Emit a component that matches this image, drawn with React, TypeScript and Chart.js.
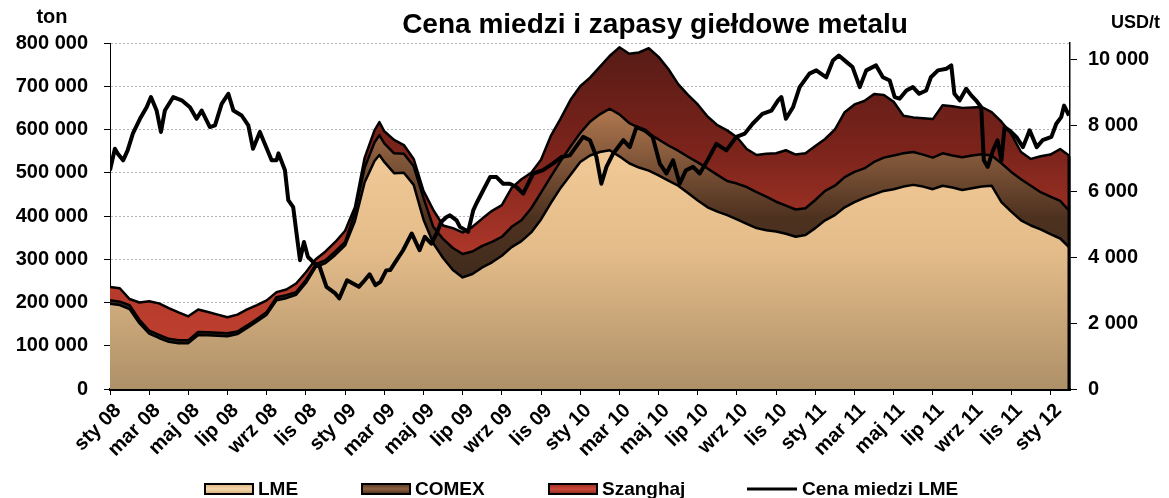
import React, { useEffect, useRef } from "react";
import { Chart, registerables } from "chart.js";

Chart.register(...registerables);

const TITLE = "Cena miedzi i zapasy giełdowe metalu";
const LEFT_UNIT = "ton";
const RIGHT_UNIT = "USD/t";
const seriesNames = ["LME", "COMEX", "Szanghaj", "Cena miedzi LME"];

const tickLabels = [
  "sty 08", "mar 08", "maj 08", "lip 08", "wrz 08", "lis 08",
  "sty 09", "mar 09", "maj 09", "lip 09", "wrz 09", "lis 09",
  "sty 10", "mar 10", "maj 10", "lip 10", "wrz 10", "lis 10",
  "sty 11", "mar 11", "maj 11", "lip 11", "wrz 11", "lis 11",
  "sty 12",
];
const leftTicks = [0, 100000, 200000, 300000, 400000, 500000, 600000, 700000, 800000];
const rightTicks = [0, 2000, 4000, 6000, 8000, 10000];

// months elapsed since 1 Jan 2008 (stock sampling points)
const stockMonths = [
  0, 0.5, 1, 1.5, 2, 2.5, 3, 3.5, 4, 4.5, 5, 5.5, 6, 6.5, 7, 7.5, 8, 8.5, 9, 9.5,
  10, 10.5, 11, 11.5, 12, 12.5, 13, 13.5, 13.75, 14, 14.5, 15, 15.5, 16, 16.5, 17, 17.5, 18, 18.5, 19, 19.5,
  20, 20.5, 21, 21.5, 22, 22.5, 23, 23.5, 24, 24.5, 25, 25.5, 26, 26.5, 27, 27.5, 28, 28.5, 29, 29.5,
  30, 30.5, 31, 31.5, 32, 32.5, 33, 33.5, 34, 34.5, 35, 35.5, 36, 36.5, 37, 37.5, 38, 38.5, 39, 39.5,
  40, 40.5, 41, 41.5, 42, 42.5, 43, 43.5, 44, 44.5, 45, 45.5, 46, 46.5, 47, 47.5, 48, 48.5, 49,
];

// stocks, thousand tonnes
const lmeStock = [
  197, 194, 185, 152, 128, 118, 109, 106, 106, 125, 124, 123, 122, 127, 141, 156, 172, 205, 210, 218,
  245, 282, 291, 310, 332, 388, 478, 527, 541, 525, 499, 500, 472, 392, 337, 303, 275, 258, 266, 281, 293,
  308, 328, 342, 362, 392, 430, 465, 495, 525, 540, 548, 552, 538, 522, 512, 505, 494, 482, 470, 453,
  436, 420, 410, 402, 392, 382, 372, 367, 364, 359, 352, 356, 372, 390, 402, 420, 432, 442, 450, 458,
  462, 468, 472, 468, 462, 470, 466, 460, 464, 468, 470, 432, 410, 390, 378, 369, 358, 348, 326,
];
const comexStock = [
  8, 8, 9, 8, 7, 7, 7, 7, 7, 7, 7, 7, 7, 6, 6, 6, 6, 7, 7, 6,
  7, 6, 7, 8, 8, 20, 34, 43, 46, 43, 46, 44, 43, 50, 38, 44, 51, 54, 52, 50, 47,
  44, 47, 48, 56, 62, 61, 62, 65, 67, 78, 87, 96, 97, 93, 92, 85, 83, 81, 81, 84,
  88, 90, 85, 79, 83, 85, 83, 78, 69, 65, 63, 62, 65, 68, 68, 70, 70, 68, 75, 77,
  78, 77, 76, 74, 73, 75, 74, 76, 76, 75, 70, 90, 92, 95, 92, 86, 87, 87, 84,
];
const shanghaiStock = [
  31, 31, 14, 40, 68, 73, 71, 64, 55, 52, 47, 42, 37, 39, 37, 32, 27, 12, 13, 20,
  18, 12, 20, 22, 26, 12, 23, 28, 30, 28, 31, 20, 17, 16, 39, 31, 46, 50, 57, 63, 72,
  73, 90, 95, 82, 76, 94, 98, 108, 108, 102, 110, 122, 155, 160, 174, 198, 191, 177, 154, 143,
  134, 120, 115, 117, 107, 88, 86, 99, 112, 128, 127, 127, 125, 120, 130, 150, 156, 156, 157, 145,
  124, 87, 80, 84, 89, 111, 114, 114, 111, 109, 100, 96, 88, 63, 62, 83, 97, 120, 128,
];

// LME copper price, USD/t, at months elapsed since 1 Jan 2008
const priceMonths = [
  0, 0.25, 0.4, 0.67, 0.9, 1.17, 1.53, 1.87, 2.09, 2.38, 2.6, 2.8, 3.23, 3.66, 4.08, 4.42, 4.68, 5.1, 5.36, 5.7,
  6.04, 6.3, 6.72, 7.06, 7.3, 7.65, 7.9, 8.25, 8.5, 8.6, 8.93, 9.1, 9.35, 9.5, 9.7, 9.9, 10.1, 10.45, 10.7, 11.05,
  11.5, 11.7, 12.1, 12.4, 12.7, 13.0, 13.25, 13.55, 13.8, 14.1, 14.3, 14.63, 14.96, 15.4, 15.8, 16.07, 16.4, 16.67, 16.9, 17.18,
  17.35, 17.69, 17.86, 18.28, 18.54, 18.7, 19.05, 19.4, 19.73, 20.07, 20.4, 20.75, 21.09, 21.6, 22.1, 22.6, 23.04, 23.47, 24.15, 24.5,
  24.83, 25.08, 25.34, 25.68, 26.2, 26.53, 26.87, 27.3, 27.7, 28.06, 28.4, 28.74, 29.08, 29.4, 29.76, 30.1, 30.5, 30.95, 31.46, 31.97,
  32.4, 32.8, 33.3, 33.76, 34.1, 34.27, 34.5, 34.86, 35.2, 35.7, 36.05, 36.56, 36.9, 37.2, 37.6, 37.9, 38.27, 38.6, 39.1, 39.45,
  39.8, 40.05, 40.3, 40.65, 40.98, 41.3, 41.66, 41.9, 42.26, 42.7, 42.94, 43.1, 43.37, 43.7, 43.96, 44.2, 44.47, 44.6, 44.8, 45.07,
  45.3, 45.5, 45.66, 45.9, 46.26, 46.6, 46.94, 47.3, 47.6, 48.05, 48.3, 48.55, 48.7, 48.95,
];
const priceUsd = [
  6640, 7290, 7140, 6940, 7240, 7760, 8200, 8550, 8860, 8450, 7800, 8450, 8860, 8760, 8550, 8200, 8450, 7950, 8000, 8650,
  8960, 8450, 8300, 8000, 7290, 7800, 7440, 6940, 6940, 7150, 6640, 5730, 5520, 4820, 3910, 4460, 4010, 3810, 3710, 3100,
  2900, 2750, 3300, 3200, 3100, 3300, 3480, 3150, 3250, 3600, 3610, 3910, 4210, 4720, 4210, 4620, 4410, 4720, 5070, 5220,
  5270, 5120, 4920, 4770, 5420, 5630, 6030, 6430, 6430, 6230, 6230, 6130, 5930, 6540, 6640, 6840, 7040, 7090, 7650, 7550,
  7040, 6230, 6740, 7140, 7550, 7340, 7950, 7850, 7650, 6840, 6540, 6940, 6230, 6640, 6740, 6540, 6940, 7440, 7240, 7650,
  7750, 8050, 8350, 8450, 8760, 8860, 8200, 8550, 9160, 9570, 9670, 9460, 9970, 10120, 9920, 9770, 9160, 9670, 9820, 9460,
  9360, 8860, 8810, 9060, 9160, 8960, 9060, 9460, 9670, 9720, 9820, 8960, 8760, 9110, 8910, 8760, 8550, 6940, 6740, 7240,
  7550, 6940, 7950, 7850, 7650, 7340, 7850, 7340, 7550, 7650, 8050, 8250, 8600, 8300,
];

const FONT = '"Liberation Sans", Arial, Helvetica, sans-serif';

const fmtSpace = (v: number) => String(Math.round(v)).replace(/\B(?=(\d{3})+(?!\d))/g, " ");

function vGrad(chart: any, stops: [number, string][]) {
  const { ctx, chartArea } = chart;
  const g = ctx.createLinearGradient(0, chartArea.top, 0, chartArea.bottom);
  stops.forEach(([f, c]) => g.addColorStop(f, c));
  return g;
}

const LME_STOPS: [number, string][] = [[0, "#F4CC9A"], [0.3, "#F2CA98"], [0.6, "#E4BC8A"], [1, "#AE9068"]];
const COMEX_STOPS: [number, string][] = [[0, "#B47C54"], [0.19, "#B07850"], [0.5, "#4E3220"], [0.74, "#3C281A"], [1, "#3C281A"]];
const SH_STOPS: [number, string][] = [[0, "#561B16"], [0.3, "#7A231B"], [0.63, "#B0382A"], [0.83, "#BC3E2E"], [1, "#BC3E2E"]];

const scriptGrad = (stops: [number, string][], fallback: string) => (c: any) =>
  c.chart.chartArea ? vGrad(c.chart, stops) : fallback;

const edgePlugin = {
  id: "areaEdge",
  afterDatasetsDraw(chart: any) {
    // right-hand outline of the stacked areas (as drawn by the original)
    const meta = chart.getDatasetMeta(2);
    const pts = meta && meta.data;
    if (!pts || !pts.length) return;
    const last = pts[pts.length - 1];
    const c = chart.ctx as CanvasRenderingContext2D;
    c.save();
    c.strokeStyle = "#000";
    c.lineWidth = 3;
    c.beginPath();
    c.moveTo(last.x - 1, last.y);
    c.lineTo(last.x - 1, chart.chartArea.bottom);
    c.stroke();
    c.restore();
  },
};

const decorPlugin = {
  id: "decor",
  afterDraw(chart: any) {
    const c = chart.ctx as CanvasRenderingContext2D;
    c.save();
    c.fillStyle = "#000";
    c.textBaseline = "alphabetic";
    c.textAlign = "center";
    c.font = `bold 28px ${FONT}`;
    c.fillText(TITLE, 655, 33);
    c.font = `bold 20px ${FONT}`;
    c.fillText(LEFT_UNIT, 52, 23);
    c.textAlign = "left";
    c.font = `bold 18px ${FONT}`;
    c.fillText(RIGHT_UNIT, 1111, 28);

    // legend
    const boxY = 484;
    const boxH = 10;
    const boxW = 48;
    const boxXs = [205, 362, 549];
    const boxGrads: string[][] = [
      ["#D6B282", "#F6D6A8", "#D0AC7C"],
      ["#5A3A24", "#8C6040", "#4A2E1C"],
      ["#982C20", "#CC4A3A", "#8E281E"],
    ];
    c.font = `bold 19px ${FONT}`;
    boxXs.forEach((bx, i) => {
      const g = c.createLinearGradient(0, boxY, 0, boxY + boxH);
      g.addColorStop(0, boxGrads[i][0]);
      g.addColorStop(0.5, boxGrads[i][1]);
      g.addColorStop(1, boxGrads[i][2]);
      c.fillStyle = g;
      c.fillRect(bx, boxY, boxW, boxH);
      c.lineWidth = 2;
      c.strokeStyle = "#000";
      c.strokeRect(bx, boxY, boxW, boxH);
      c.fillStyle = "#000";
      c.fillText(seriesNames[i], bx + 53, 495);
    });
    c.beginPath();
    c.lineWidth = 3;
    c.strokeStyle = "#000";
    c.moveTo(747, 489);
    c.lineTo(797, 489);
    c.stroke();
    c.fillText(seriesNames[3], 802, 495);
    c.restore();
  },
};

export default function App() {
  const ref = useRef<HTMLCanvasElement | null>(null);

  useEffect(() => {
    if (!ref.current) return;
    const stockPts = (arr: number[]) => stockMonths.map((m, i) => ({ x: m, y: arr[i] * 1000 }));
    const areaCommon = {
      pointRadius: 0,
      tension: 0,
      borderColor: "#000",
      borderWidth: 2.5,
      borderJoinStyle: "round" as const,
      yAxisID: "y",
      stack: "stocks",
      order: 1,
    };
    const chart = new Chart(ref.current, {
      type: "line",
      data: {
        datasets: [
          {
            ...areaCommon,
            label: seriesNames[0],
            data: stockPts(lmeStock),
            fill: "origin",
            backgroundColor: scriptGrad(LME_STOPS, "#E0B888"),
          },
          {
            ...areaCommon,
            label: seriesNames[1],
            data: stockPts(comexStock),
            fill: "-1",
            backgroundColor: scriptGrad(COMEX_STOPS, "#6A4630"),
          },
          {
            ...areaCommon,
            label: seriesNames[2],
            data: stockPts(shanghaiStock),
            fill: "-1",
            backgroundColor: scriptGrad(SH_STOPS, "#A03428"),
          },
          {
            label: seriesNames[3],
            data: priceMonths.map((m, i) => ({ x: m, y: priceUsd[i] })),
            yAxisID: "y1",
            borderColor: "#000",
            borderWidth: 4,
            borderJoinStyle: "round",
            pointRadius: 0,
            tension: 0,
            fill: false,
            order: 0,
          },
        ],
      },
      options: {
        responsive: false,
        maintainAspectRatio: false,
        animation: false,
        devicePixelRatio: 1,
        layout: { padding: { top: 43, left: 0, right: 0, bottom: 0 } },
        plugins: {
          legend: { display: false },
          title: { display: false },
          tooltip: { enabled: false },
        },
        scales: {
          x: {
            type: "linear",
            position: "bottom",
            min: 0,
            max: 49,
            offset: false,
            afterFit: (s: any) => {
              s.height = 109;
            },
            ticks: {
              stepSize: 2,
              maxTicksLimit: 40,
              includeBounds: false,
              autoSkip: false,
              minRotation: 45,
              maxRotation: 45,
              padding: 4,
              labelOffset: 8,
              color: "#000",
              font: { family: FONT, size: 20, weight: "bold" },
              callback: (value: any) => {
                const v = Number(value);
                const k = v / 2;
                if (Number.isInteger(k) && k >= 0 && k < tickLabels.length) return tickLabels[k];
                return null;
              },
            },
            grid: {
              display: true,
              drawOnChartArea: false,
              drawTicks: true,
              tickLength: 6,
              color: "#000",
              tickColor: "#000",
              tickWidth: 1,
            },
            border: { display: true, color: "#000", width: 3 },
          },
          y: {
            type: "linear",
            position: "left",
            stacked: true,
            min: 0,
            max: 800000,
            afterFit: (s: any) => {
              s.width = 110;
            },
            afterBuildTicks: (s: any) => {
              s.ticks = leftTicks.map((v) => ({ value: v }));
            },
            ticks: {
              padding: 16,
              color: "#000",
              font: { family: FONT, size: 20, weight: "bold" },
              callback: (v: any) => fmtSpace(Number(v)),
            },
            grid: {
              drawOnChartArea: true,
              drawTicks: true,
              tickLength: 6,
              color: "#B4B4B4",
              tickColor: "#000",
              lineWidth: 1,
            },
            border: { display: true, color: "#000", width: 1, dash: [2, 2] },
          },
          y1: {
            type: "linear",
            position: "right",
            min: 0,
            max: 10500,
            afterFit: (s: any) => {
              s.width = 99;
            },
            afterBuildTicks: (s: any) => {
              s.ticks = rightTicks.map((v) => ({ value: v }));
            },
            ticks: {
              padding: 11,
              color: "#000",
              font: { family: FONT, size: 20, weight: "bold" },
              callback: (v: any) => fmtSpace(Number(v)),
            },
            grid: {
              drawOnChartArea: false,
              drawTicks: true,
              tickLength: 7,
              color: "#000",
              tickColor: "#000",
            },
            border: { display: true, color: "#000", width: 1.5 },
          },
        },
      },
      plugins: [edgePlugin, decorPlugin],
    } as any);
    return () => chart.destroy();
  }, []);

  return (
    <div style={{ position: "fixed", left: 0, top: 0, width: 1169, height: 498, background: "#fff" }}>
      <canvas ref={ref} width={1169} height={498} style={{ display: "block", width: 1169, height: 498 }} />
    </div>
  );
}
